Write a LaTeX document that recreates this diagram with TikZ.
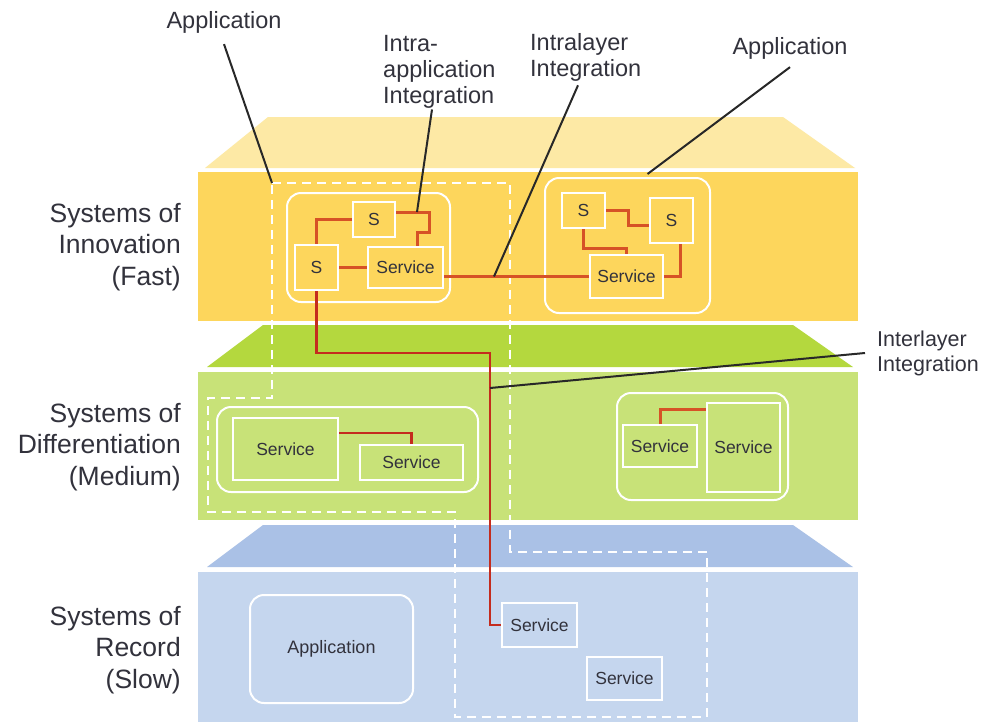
\documentclass[tikz,border=0pt]{standalone}
\usepackage{fontspec}
\setmainfont{Liberation Sans}
\usetikzlibrary{calc}
\definecolor{yfront}{RGB}{253,214,92}
\definecolor{ytop}{RGB}{253,233,165}
\definecolor{gfront}{RGB}{200,226,120}
\definecolor{gtop}{RGB}{180,216,62}
\definecolor{bfront}{RGB}{197,214,238}
\definecolor{btop}{RGB}{170,193,230}
\definecolor{connor}{RGB}{214,82,38}
\definecolor{connrd}{RGB}{196,44,30}
\definecolor{txt}{RGB}{50,50,60}
\definecolor{lead}{RGB}{40,40,40}
\begin{document}
\begin{tikzpicture}[x=1pt,y=-1pt,
  appbox/.style={draw=white,line width=2pt,rounded corners=14pt,inner sep=0pt,text=txt,font=\fontsize{18}{21}\selectfont},
  svc/.style={draw=white,line width=2pt,inner sep=0pt,text=txt,font=\fontsize{17.5}{21}\selectfont},
  conno/.style={draw=connor,line width=3pt},
  connr/.style={draw=connrd,line width=2.6pt},
  leader/.style={draw=lead,line width=2pt},
  dashline/.style={draw=white,line width=2.5pt,dash pattern=on 9pt off 6pt},
  lbl/.style={text=txt,font=\fontsize{26.5}{31.5}\selectfont,inner sep=0pt},
  tl/.style={text=txt,font=\fontsize{23.5}{26}\selectfont,inner sep=0pt}
]
\clip (0,0) rectangle (987,721);
\fill[white] (0,0) rectangle (987,721);
% layers
\fill[ytop] (268,117) -- (783,117) -- (855,168) -- (205,168) -- cycle;
\fill[yfront] (198,172) rectangle (858,321);
\fill[gtop] (263,325) -- (793,325) -- (853,367) -- (207,367) -- cycle;
\fill[gfront] (198,372) rectangle (858,520);
\fill[btop] (263,525) -- (793,525) -- (853,567) -- (207,567) -- cycle;
\fill[bfront] (198,572) rectangle (858,730);
% dashed cross-layer application
\coordinate (dA) at (272,183);
\draw[dashline] (dA) -- (510,183) -- (510,552) -- (707,552) -- (707,717) -- (455,717) -- (455,512) -- (208,512) -- (208,398) -- (272,398) -- cycle;
% yellow layer
\node[appbox,minimum width=163pt,minimum height=109pt] (appTL) at (368.5,247.5) {};
\node[svc,minimum width=42pt,minimum height=35pt] (St1) at (374,219.5) {S};
\node[svc,minimum width=43pt,minimum height=45pt] (Sl1) at (316.5,267.5) {S};
\node[svc,minimum width=75pt,minimum height=41pt] (Sv1) at (405.5,267.5) {Service};
\node[appbox,minimum width=165pt,minimum height=135pt] (appTR) at (627.5,245.5) {};
\node[svc,minimum width=43pt,minimum height=35pt] (S1r) at (583.5,210.5) {S};
\node[svc,minimum width=43pt,minimum height=45pt] (S2r) at (671.5,220.5) {S};
\node[svc,minimum width=73pt,minimum height=43pt] (Svr) at (626.5,276.5) {Service};
% green layer
\node[appbox,minimum width=261pt,minimum height=85pt] (appGL) at (347.5,449.5) {};
\node[svc,minimum width=105pt,minimum height=62pt] (SvgA) at (285.5,449) {Service};
\node[svc,minimum width=103pt,minimum height=35pt] (SvgB) at (411.5,462.5) {Service};
\node[appbox,minimum width=171pt,minimum height=107pt] (appGR) at (702.5,446.5) {};
\node[svc,minimum width=74pt,minimum height=42pt] (SvgC) at (660,446) {Service};
\node[svc,minimum width=73pt,minimum height=89pt] (SvgD) at (743.5,447.5) {Service};
% blue layer
\node[appbox,minimum width=163pt,minimum height=108pt] (appB) at (331.5,649) {Application};
\node[svc,minimum width=75pt,minimum height=44pt] (SvbA) at (539.5,625) {Service};
\node[svc,minimum width=75pt,minimum height=43pt] (SvbB) at (624.5,678.5) {Service};
% connectors
\draw[conno] (St1.west) -| (Sl1.north);
\draw[conno] ([yshift=7.5pt]St1.east) -| ++(33,20) -| ([xshift=11.5pt]Sv1.north);
\draw[conno] (Sl1.east) -- (Sv1.west);
\draw[conno] (Svr.west) -- (Svr.west -| Sv1.east);
\draw[conno] (S1r.east) -- ++(22,0) |- ([yshift=-4.5pt]S2r.west);
\draw[conno] (S1r.south) -- ++(0,19) -| (Svr.north);
\draw[conno] ([xshift=8.5pt]S2r.south) |- (Svr.east);
\coordinate (bend) at (490,353);
\draw[connr] (Sl1.south) |- (bend) |- (SvbA.west);
\draw[connr] ([yshift=16pt]SvgA.east) -| (SvgB.north);
\draw[conno] (SvgC.north) |- ([yshift=38.5pt]SvgD.west);
% labels
\node[lbl,align=right,anchor=east] (Linn) at (181,247) {Systems of\\Innovation\\(Fast)};
\node[lbl,align=right,anchor=east] (Ldif) at (181,447) {Systems of\\Differentiation\\(Medium)};
\node[lbl,align=right,anchor=east] (Lrec) at (181,650) {Systems of\\Record\\(Slow)};
\node[tl] (appL) at (224,22) {Application};
\node[tl,align=left,anchor=north west] (intraL) at (383,35) {Intra-\\application\\Integration};
\node[tl,align=left,anchor=north west] (intrL) at (530,33) {Intralayer\\Integration};
\node[tl] (appR) at (790,48) {Application};
\node[tl,font=\fontsize{21.5}{25}\selectfont,align=left,anchor=west] (interL) at (877,353) {Interlayer\\Integration};
% leader lines
\coordinate (iaT) at ([xshift=21pt,yshift=7.5pt]St1.east);
\coordinate (ilT) at ([xshift=-95pt]Svr.west);
\coordinate (apT) at ([xshift=20pt,yshift=3pt]appTR.north);
\coordinate (iyT) at ([yshift=-35pt]bend);
\draw[leader] ([yshift=-11pt]appL.south) -- (dA);
\draw[leader] ([xshift=49pt,yshift=-1pt]intraL.south west) -- (iaT);
\draw[leader] ([xshift=48pt,yshift=-4pt]intrL.south west) -- (ilT);
\draw[leader] ([yshift=-8pt]appR.south) -- (apT);
\draw[leader] ([xshift=-12pt]interL.west) -- (iyT);
\end{tikzpicture}
\end{document}
